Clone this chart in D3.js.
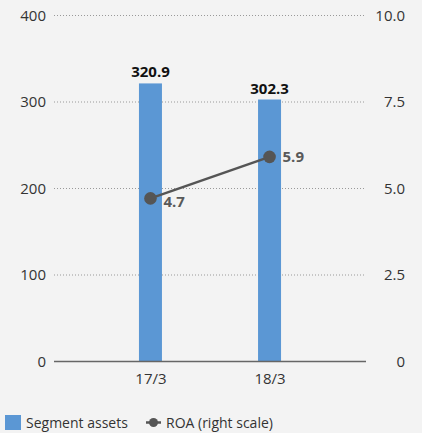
<!DOCTYPE html>
<html><head><meta charset="utf-8">
<script src="https://cdn.jsdelivr.net/npm/d3@7"></script>
<style>
html,body{margin:0;padding:0;background:#f3f3f3;}
svg{display:block;font-family:"Open Sans",sans-serif;}
</style></head><body>
<svg id="c" width="422" height="433"></svg>
<script>
const categories = ["17/3", "18/3"];
const segmentAssets = [320.9, 302.3];
const roa = [4.7, 5.9];
const leftTicks = [0, 100, 200, 300, 400];
const rightTicks = [0, 2.5, 5.0, 7.5, 10.0];
const rightTickLabels = ["0", "2.5", "5.0", "7.5", "10.0"];

const svg = d3.select("#c");
const x0 = 54, x1 = 366, yTop = 15, yBot = 361;
const x = d3.scalePoint().domain(categories).range([x0, x1]).padding(0.81);
const yL = d3.scaleLinear().domain([0, 400]).range([yBot, yTop]);
const yR = d3.scaleLinear().domain([0, 10]).range([yBot, yTop]);
const barW = 23;
const textCol = "#333";

// grid
svg.append("g").selectAll("line").data(leftTicks.filter(d => d > 0)).join("line")
  .attr("x1", x0).attr("x2", x1)
  .attr("y1", d => yL(d) + 0.5).attr("y2", d => yL(d) + 0.5)
  .attr("stroke", "#999").attr("stroke-width", 1).attr("stroke-dasharray", "1,2");

// left axis labels
const axL = d3.axisLeft(yL).tickValues(leftTicks).tickSize(0).tickPadding(0);
svg.append("g").attr("transform", `translate(${46},0)`).call(axL)
  .call(g => g.select(".domain").remove())
  .selectAll("text").attr("font-size", 15).attr("fill", textCol).attr("font-family", "Open Sans").attr("dy", "0.36em");

const axR = d3.axisRight(yR).tickValues(rightTicks).tickFormat((d, i) => rightTickLabels[i]).tickSize(0).tickPadding(0);
svg.append("g").attr("transform", `translate(${405},0)`).call(axR)
  .call(g => g.select(".domain").remove())
  .selectAll("text").attr("font-size", 15).attr("fill", textCol).attr("font-family", "Open Sans")
  .attr("text-anchor", "end").attr("dy", "0.36em");

// bars
svg.append("g").selectAll("rect").data(segmentAssets).join("rect")
  .attr("x", (d, i) => x(categories[i]) - barW / 2)
  .attr("width", barW)
  .attr("y", d => yL(d))
  .attr("height", d => yBot - yL(d))
  .attr("fill", "#5b97d4");

// baseline
svg.append("line").attr("x1", x0).attr("x2", x1).attr("y1", yBot + 0.5).attr("y2", yBot + 0.5)
  .attr("stroke", "#666").attr("stroke-width", 1.5);

// x labels
const axB = d3.axisBottom(x).tickSize(0).tickPadding(0);
svg.append("g").attr("transform", `translate(0,${384})`).call(axB)
  .call(g => g.select(".domain").remove())
  .selectAll("text").attr("font-size", 15).attr("fill", textCol).attr("font-family", "Open Sans").attr("dy", 0);

// bar labels
svg.append("g").selectAll("text").data(segmentAssets).join("text")
  .attr("x", (d, i) => x(categories[i]))
  .attr("y", d => yL(d) - 6)
  .attr("text-anchor", "middle").attr("font-weight", "bold").attr("font-size", 15).attr("fill", "#111")
  .text(d => d.toFixed(1));

// ROA line
const line = d3.line().x((d, i) => x(categories[i])).y(d => yR(d));
svg.append("path").datum(roa).attr("d", line).attr("fill", "none").attr("stroke", "#555").attr("stroke-width", 2.5);
svg.append("g").selectAll("circle").data(roa).join("circle")
  .attr("cx", (d, i) => x(categories[i])).attr("cy", d => yR(d)).attr("r", 6.3).attr("fill", "#555");
svg.append("g").selectAll("text").data(roa).join("text")
  .attr("x", (d, i) => x(categories[i]) + 13)
  .attr("y", (d, i) => yR(d) + (i === 0 ? 9 : 5))
  .attr("font-weight", "bold").attr("font-size", 15).attr("fill", "#595959")
  .text(d => d.toFixed(1));

// legend
const lg = svg.append("g");
lg.append("rect").attr("x", 5).attr("y", 415).attr("width", 16).attr("height", 15).attr("fill", "#5b97d4");
lg.append("text").attr("x", 26).attr("y", 428).attr("font-size", 14).attr("fill", textCol).text("Segment assets");
lg.append("line").attr("x1", 146).attr("x2", 161).attr("y1", 422.5).attr("y2", 422.5).attr("stroke", "#555").attr("stroke-width", 2.5);
lg.append("circle").attr("cx", 153.5).attr("cy", 422.5).attr("r", 4.5).attr("fill", "#555");
lg.append("text").attr("x", 166).attr("y", 428).attr("font-size", 14).attr("fill", textCol).text("ROA (right scale)");
</script>
</body></html>
